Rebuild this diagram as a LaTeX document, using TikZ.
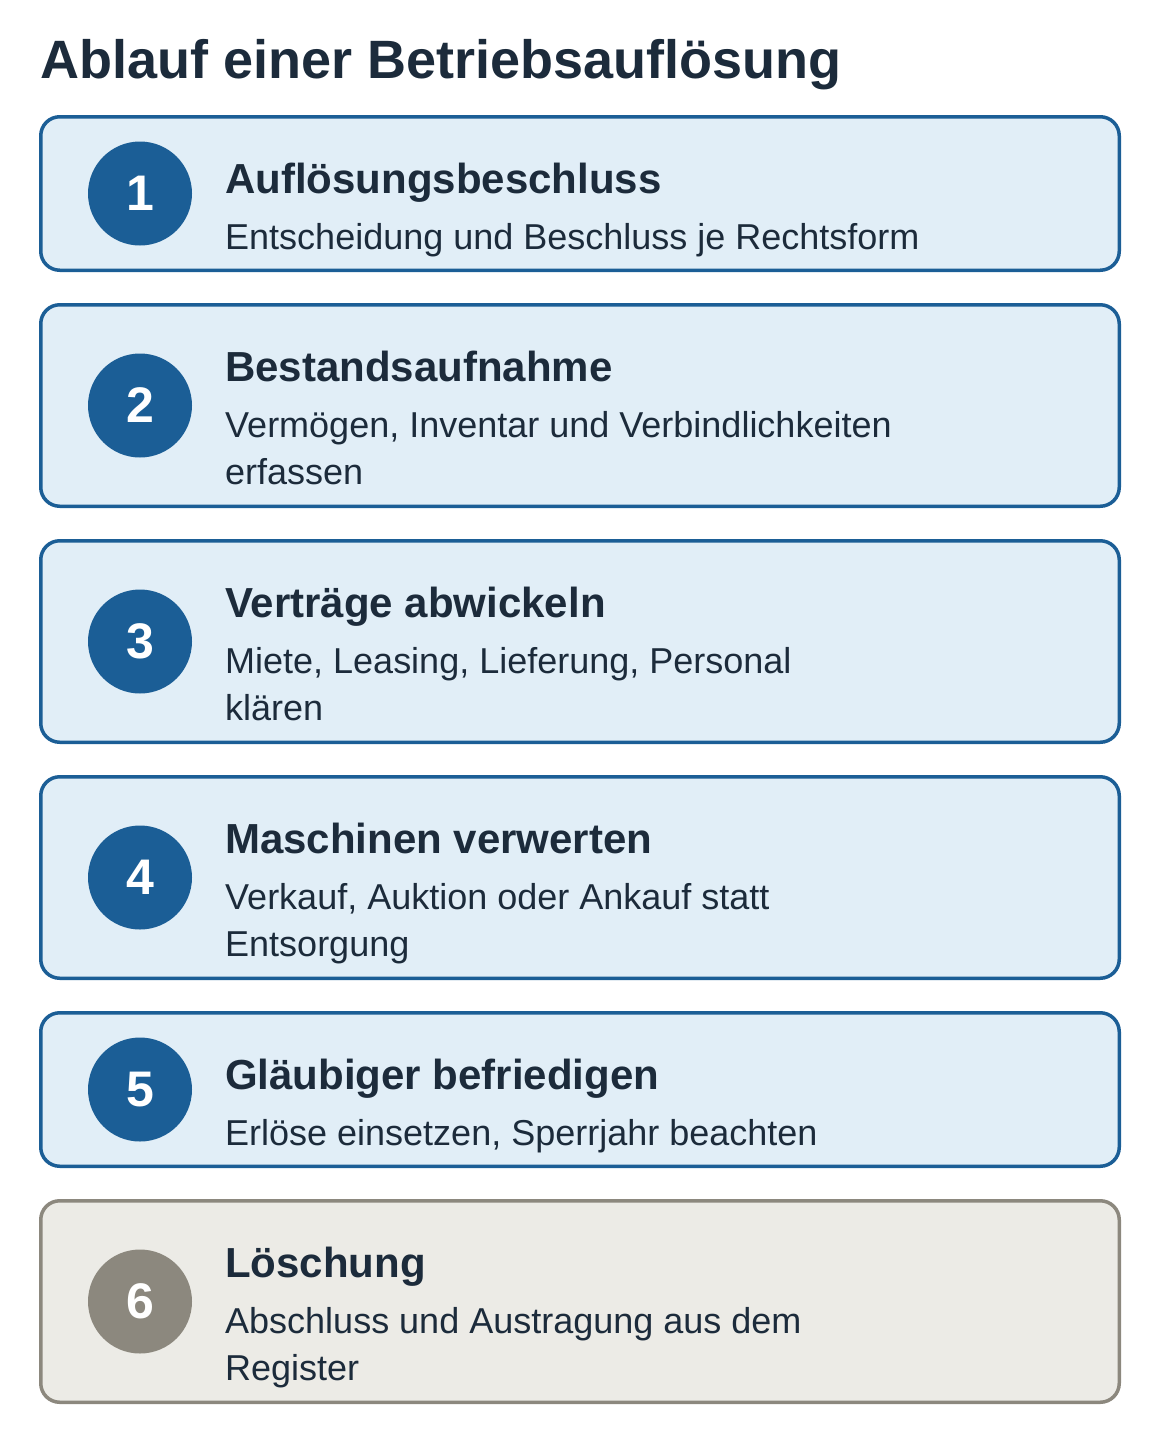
\documentclass[tikz,border=0pt]{standalone}
\usepackage{fontspec}
\setmainfont{Liberation Sans}
\definecolor{stepblue}{HTML}{1B5E96}
\definecolor{steplight}{HTML}{E1EEF7}
\definecolor{stepgray}{HTML}{8C887E}
\definecolor{graylight}{HTML}{ECEBE6}
\definecolor{textdark}{HTML}{1C2B3B}
\begin{document}
\begin{tikzpicture}[x=1pt,y=-1pt,
 bluebox/.style={draw=stepblue, fill=steplight, line width=3.5pt, rounded corners=19pt, minimum width=1078.5pt, inner sep=0pt},
 graybox/.style={bluebox, draw=stepgray, fill=graylight},
 bluedot/.style={circle, fill=stepblue, minimum size=104pt, inner sep=0pt, text=white},
 graydot/.style={bluedot, fill=stepgray},
 txt/.style={anchor=base west, inner sep=0pt, text=textdark}]
\newcommand{\myfonthead}[1]{
\fontsize{54}{62}\selectfont\bfseries{#1}
}\newcommand{\myfonttitle}[1]{
\fontsize{42}{50}\selectfont\bfseries{#1}
}\newcommand{\myfontdesc}[1]{
\fontsize{36}{47}\selectfont{#1}
}\newcommand{\myfontnumber}[1]{
\fontsize{50}{58}\selectfont\bfseries{#1}
}%Page
\useasboundingbox (0,0) rectangle (1160,1444);
%Heading
\coordinate (head) at (40,78);
\node [txt] (heading) at (head) {\myfonthead{Ablauf einer Betriebsauflösung}};
%Step 1
\coordinate (center1) at (580,193.5);
\node [bluebox, minimum height=153.5pt] (box1) at (center1) {};
\node [bluedot] (num1) at (140,193.5) {\myfontnumber{1}};
\node [txt] (title1) at (225,193) {\myfonttitle{Auflösungsbeschluss}};
\node [txt] (desc1) at (225,249) {\myfontdesc{Entscheidung und Beschluss je Rechtsform}};
%Step 2
\coordinate (center2) at (580,405.5);
\node [bluebox, minimum height=201.5pt] (box2) at (center2) {};
\node [bluedot] (num2) at (140,405.5) {\myfontnumber{2}};
\node [txt] (title2) at (225,381) {\myfonttitle{Bestandsaufnahme}};
\node [txt] (desc2) at (225,437) {\myfontdesc{Vermögen, Inventar und Verbindlichkeiten}};
\node [txt] (desc2b) at (225,484) {\myfontdesc{erfassen}};
%Step 3
\coordinate (center3) at (580,641.5);
\node [bluebox, minimum height=201.5pt] (box3) at (center3) {};
\node [bluedot] (num3) at (140,641.5) {\myfontnumber{3}};
\node [txt] (title3) at (225,617) {\myfonttitle{Verträge abwickeln}};
\node [txt] (desc3) at (225,673) {\myfontdesc{Miete, Leasing, Lieferung, Personal}};
\node [txt] (desc3b) at (225,720) {\myfontdesc{klären}};
%Step 4
\coordinate (center4) at (580,877.5);
\node [bluebox, minimum height=201.5pt] (box4) at (center4) {};
\node [bluedot] (num4) at (140,877.5) {\myfontnumber{4}};
\node [txt] (title4) at (225,853) {\myfonttitle{Maschinen verwerten}};
\node [txt] (desc4) at (225,909) {\myfontdesc{Verkauf, Auktion oder Ankauf statt}};
\node [txt] (desc4b) at (225,956) {\myfontdesc{Entsorgung}};
%Step 5
\coordinate (center5) at (580,1089.5);
\node [bluebox, minimum height=153.5pt] (box5) at (center5) {};
\node [bluedot] (num5) at (140,1089.5) {\myfontnumber{5}};
\node [txt] (title5) at (225,1089) {\myfonttitle{Gläubiger befriedigen}};
\node [txt] (desc5) at (225,1145) {\myfontdesc{Erlöse einsetzen, Sperrjahr beachten}};
%Step 6
\coordinate (center6) at (580,1301.5);
\node [graybox, minimum height=201.5pt] (box6) at (center6) {};
\node [graydot] (num6) at (140,1301.5) {\myfontnumber{6}};
\node [txt] (title6) at (225,1277) {\myfonttitle{Löschung}};
\node [txt] (desc6) at (225,1333) {\myfontdesc{Abschluss und Austragung aus dem}};
\node [txt] (desc6b) at (225,1380) {\myfontdesc{Register}};
\end{tikzpicture}
\end{document}
